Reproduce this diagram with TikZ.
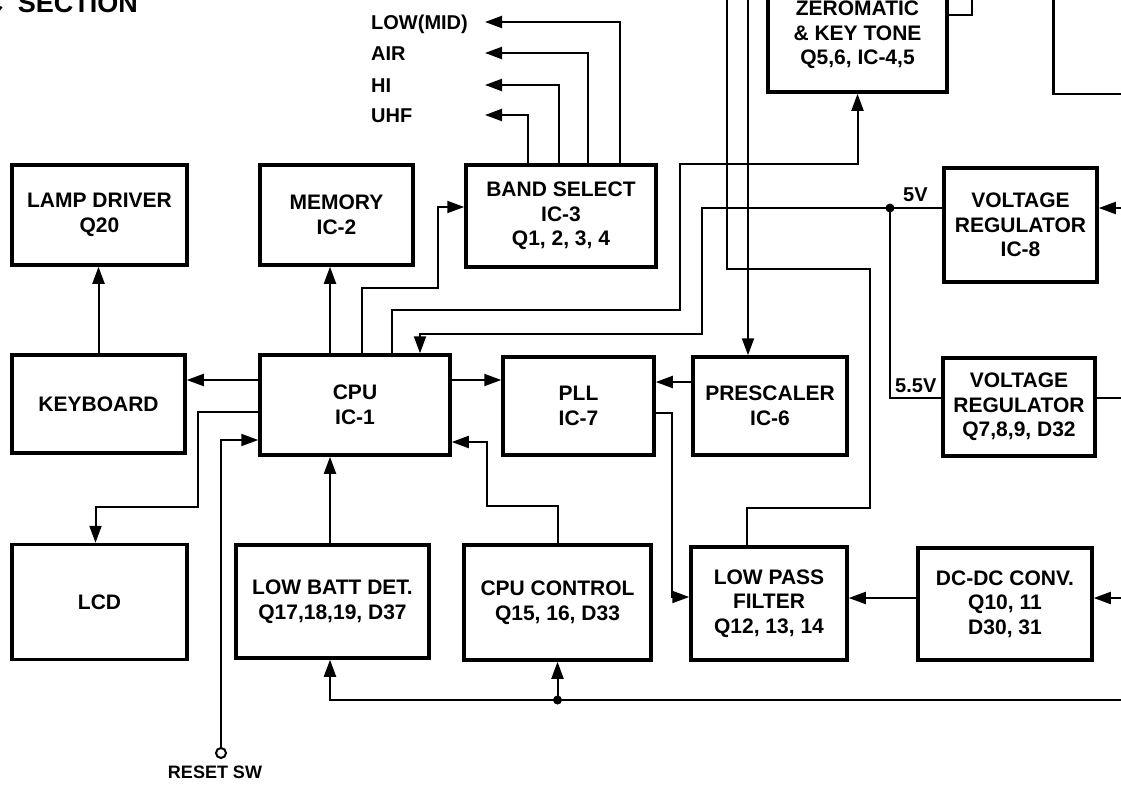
\documentclass[tikz,border=0pt]{standalone}
\usepackage{fontspec}
\setmainfont{Liberation Sans}
\usetikzlibrary{arrows.meta}
\tikzset{
  blk/.style={draw, line width=3.5pt, align=center, inner sep=0pt,
    font=\bfseries\fontsize{21}{24.5}\selectfont},
  wire/.style={line width=2pt},
  arr/.style={wire, -{Triangle[length=17pt,width=12pt]}},
  lbl/.style={inner sep=0pt, text height=14.4pt, text depth=0pt,
    font=\bfseries\fontsize{20}{24}\selectfont},
}
\begin{document}
\begin{tikzpicture}[x=1pt,y=-1pt]
\useasboundingbox (0,0) rectangle (1121,784);
\node[anchor=base east, inner sep=0pt, font=\bfseries\fontsize{27}{30}\selectfont] (title) at (138,13) {C\hspace{7pt} SECTION};
% top row
\node[blk, minimum width=175pt, minimum height=100pt] (lamp) at (99.5,215) {LAMP DRIVER\\Q20};
\node[blk, minimum width=153pt, minimum height=100pt] (mem) at (336.5,215) {MEMORY\\IC-2};
\node[blk, minimum width=190pt, minimum height=102pt] (band) at (561,216) {BAND SELECT\\IC-3\\Q1, 2, 3, 4};
\node[blk, minimum width=179pt, minimum height=114pt] (zero) at (857.5,35) {ZEROMATIC\\\& KEY TONE\\Q5,6, IC-4,5};
\node[draw, line width=2.5pt, anchor=south west, minimum width=120pt, minimum height=130pt] (disp) at (1052,95) {};
\node[blk, minimum width=153pt, minimum height=114pt] (vr8) at (1020.5,225) {VOLTAGE\\REGULATOR\\IC-8};
% band outputs
\node[lbl, anchor=west] (lowmid) at (371,22) {LOW(MID)};
\node[lbl, anchor=west] (air) at (371,53) {AIR};
\node[lbl, anchor=west] (hi) at (371,85) {HI};
\node[lbl, anchor=west] (uhf) at (371,115) {UHF};
% middle row
\node[blk, minimum width=173pt, minimum height=98pt] (kbd) at (98.5,404) {KEYBOARD};
\node[blk, minimum width=190pt, minimum height=100pt] (cpu) at (355,405) {CPU\\IC-1};
\node[blk, minimum width=151pt, minimum height=98pt] (pll) at (578.5,406) {PLL\\IC-7};
\node[blk, minimum width=154pt, minimum height=98pt] (pre) at (770,406) {PRESCALER\\IC-6};
\node[blk, minimum width=152pt, minimum height=98pt] (vr9) at (1019,407) {VOLTAGE\\REGULATOR\\Q7,8,9, D32};
% bottom row
\node[blk, minimum width=175pt, minimum height=115pt] (lcd) at (99.5,602) {LCD};
\node[blk, minimum width=193pt, minimum height=113pt] (lbd) at (332.5,601.5) {LOW BATT DET.\\Q17,18,19, D37};
\node[blk, minimum width=187pt, minimum height=115pt] (cpuc) at (557.5,602.5) {CPU CONTROL\\Q15, 16, D33};
\node[blk, minimum width=156pt, minimum height=113pt] (lpf) at (769,603.5) {LOW PASS\\FILTER\\Q12, 13, 14};
\node[blk, minimum width=174pt, minimum height=112pt] (dcdc) at (1005,604) {DC-DC CONV.\\Q10, 11\\D30, 31};
% reset switch
\node[circle, draw, line width=2pt, minimum size=10pt, inner sep=0pt] (rsw) at (221,753) {};
\node[lbl, font=\bfseries\fontsize{18}{20}\selectfont] (rswt) at (215,771) {RESET SW};
% voltage labels
\node[lbl, anchor=south west] (v5) at (903,202) {5V};
\node[lbl, anchor=south west] (v55) at (895,393) {5.5V};
\coordinate (j5) at (890,208);
\coordinate (ptop) at (748,-5);
\coordinate (ftop) at (727,-5);
\coordinate (vin8) at (1130,208);
\coordinate (vout9) at (1130,398);
\coordinate (dcin) at (1130,598);
\coordinate (busin) at (1130,700);
\coordinate (jb) at (busin -| cpuc.south);
% connectors
\draw[arr] (kbd.north) -- (kbd.north |- lamp.south);
\draw[arr] ([xshift=-25pt]cpu.north) -- ([xshift=-25pt]cpu.north |- mem.south);
\draw[arr] ([xshift=7pt]cpu.north) |- ++(76,-65) |- ([yshift=9pt]band.west);
\draw[arr] ([xshift=-33pt]band.north) |- ([xshift=114pt]uhf.west);
\draw[arr] ([xshift=-2pt]band.north) |- ([xshift=114pt]hi.west);
\draw[arr] ([xshift=27pt]band.north) |- ([xshift=114pt]air.west);
\draw[arr] ([xshift=59pt]band.north) |- ([xshift=114pt]lowmid.west);
\draw[arr] ([xshift=37pt]cpu.north) |- ++(288,-43) |- ([yshift=-70pt]zero.south) -- (zero.south);
\draw[wire] ([yshift=20pt]zero.east) -- ++(23,0) -- ++(0,-40);
\draw[wire] (j5) -- ([yshift=17pt]vr8.west);
\draw[arr] (j5) -| ++(-188,126) -| ([xshift=65pt]cpu.north);
\draw[wire] (j5) |- ([yshift=9pt]vr9.west);
\fill (j5) circle (4.5pt);
\draw[arr] (ptop) -- (ptop |- pre.north);
\draw[wire] (ftop) |- ++(143,274) |- ([xshift=-22pt,yshift=37pt]lpf.north) -- ([xshift=-22pt]lpf.north);
\draw[arr] ([yshift=25pt]cpu.west) -- ([yshift=25pt]cpu.west -| kbd.east);
\draw[arr] ([yshift=25pt]cpu.east) -- ([yshift=25pt]cpu.east -| pll.west);
\draw[arr] ([yshift=24pt]pre.west) -- ([yshift=24pt]pre.west -| pll.east);
\draw[arr] ([yshift=-7pt]pll.east) -- ++(16,0) |- ([yshift=6.5pt]lpf.west);
\draw[arr] ([yshift=6pt]dcdc.west) -- ([yshift=6pt]dcdc.west -| lpf.east);
\draw[arr] ([yshift=-7pt]cpu.west) -| ++(-60,95) -| ([xshift=-4pt]lcd.north);
\draw[arr] (rsw.north) |- ([yshift=-35pt]cpu.west);
\draw[arr] ([xshift=-2.5pt]lbd.north) -- ([xshift=-25pt]cpu.south);
\draw[arr] (cpuc.north) |- ++(-71,-37) |- ([yshift=-37pt]cpu.east);
\draw[arr] (vin8) -- (vin8 -| vr8.east);
\draw[wire] ([yshift=9pt]vr9.east) -- (vout9);
\draw[arr] (dcin) -- (dcin -| dcdc.east);
\draw[arr] (busin) -| ([xshift=-2.5pt]lbd.south);
\draw[arr] (jb) -- (cpuc.south);
\fill (jb) circle (4.5pt);
\end{tikzpicture}
\end{document}
